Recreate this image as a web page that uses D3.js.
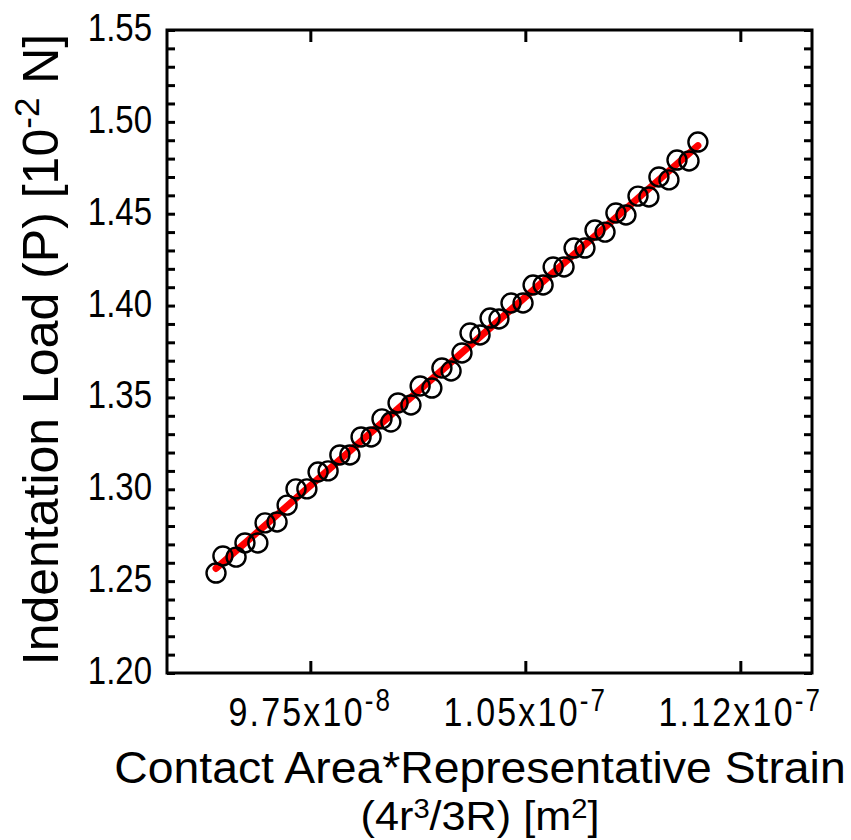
<!DOCTYPE html>
<html>
<head>
<meta charset="utf-8">
<script src="https://cdn.jsdelivr.net/npm/d3@7"></script>
<style>
  html, body { margin: 0; padding: 0; background: #fff; }
  svg { display: block; font-family: "Liberation Sans", Arial, Helvetica, sans-serif; }
</style>
</head>
<body>
<div id="chart"></div>
<script>
// Measured points (x in m^2, y in 10^-2 N)
const contactStrain = [
  0.9421e-7, 0.9445e-7, 0.9491e-7, 0.9522e-7, 0.9567e-7, 0.9592e-7, 0.9634e-7, 0.9669e-7,
  0.9700e-7, 0.9738e-7, 0.9777e-7, 0.9812e-7, 0.9853e-7, 0.9888e-7, 0.9927e-7, 0.9962e-7,
  1.0000e-7, 1.0031e-7, 1.0056e-7, 1.0101e-7, 1.0133e-7, 1.0174e-7, 1.0209e-7, 1.0241e-7,
  1.0279e-7, 1.0307e-7, 1.0342e-7, 1.0377e-7, 1.0408e-7, 1.0450e-7, 1.0492e-7, 1.0527e-7,
  1.0562e-7, 1.0597e-7, 1.0635e-7, 1.0670e-7, 1.0708e-7, 1.0743e-7, 1.0778e-7, 1.0816e-7,
  1.0851e-7, 1.0893e-7, 1.0931e-7, 1.0966e-7, 1.1001e-7, 1.1029e-7, 1.1071e-7, 1.1102e-7
];
const indentLoad = [
  1.2544, 1.2637, 1.2631, 1.2708, 1.2708, 1.2817, 1.2822, 1.2914,
  1.3002, 1.3002, 1.3094, 1.3100, 1.3187, 1.3187, 1.3285, 1.3285,
  1.3383, 1.3366, 1.3470, 1.3459, 1.3562, 1.3551, 1.3660, 1.3644,
  1.3742, 1.3851, 1.3840, 1.3932, 1.3927, 1.4014, 1.4014, 1.4112,
  1.4112, 1.4210, 1.4210, 1.4313, 1.4313, 1.4411, 1.4400, 1.4504,
  1.4493, 1.4596, 1.4591, 1.4700, 1.4684, 1.4792, 1.4787, 1.4890
];
const xTicks = [9.75e-8, 1.05e-7, 1.125e-7];
const xTickLabels = [["9.75x10", "-8"], ["1.05x10", "-7"], ["1.12x10", "-7"]];
const yTicks = [1.20, 1.25, 1.30, 1.35, 1.40, 1.45, 1.50, 1.55];

const width = 851, height = 840;
const frame = { left: 167, right: 812, top: 30, bottom: 673 };

const x = d3.scaleLinear().domain([9.25e-8, 1.15e-7]).range([frame.left, frame.right]);
const y = d3.scaleLinear().domain([1.20, 1.55]).range([frame.bottom, frame.top]);

const svg = d3.select('#chart').append('svg')
  .attr('width', width).attr('height', height)
  .attr('viewBox', `0 0 ${width} ${height}`);

const points = contactStrain.map((v, i) => ({ x: v, y: indentLoad[i] }));

// Least squares fit over the measured range
const mx = d3.mean(points, d => d.x), my = d3.mean(points, d => d.y);
const slope = d3.sum(points, d => (d.x - mx) * (d.y - my)) / d3.sum(points, d => (d.x - mx) ** 2);
const intercept = my - slope * mx;
const [x0, x1] = d3.extent(points, d => d.x);

svg.append('line')
  .attr('x1', x(x0)).attr('y1', y(slope * x0 + intercept))
  .attr('x2', x(x1)).attr('y2', y(slope * x1 + intercept))
  .attr('stroke', '#ff0000')
  .attr('stroke-width', 7)
  .attr('stroke-linecap', 'round');

svg.append('g')
  .selectAll('circle')
  .data(points)
  .join('circle')
  .attr('cx', d => x(d.x))
  .attr('cy', d => y(d.y))
  .attr('r', 9.5)
  .attr('fill', 'none')
  .attr('stroke', '#000')
  .attr('stroke-width', 2.4);

// Axes: ticks point inward on all four sides
const minorY = d3.range(120, 156).map(v => v / 100);
const axisLeft = d3.axisRight(y).tickValues(minorY).tickSize(8).tickFormat('');
const axisRight = d3.axisLeft(y).tickValues(minorY).tickSize(8).tickFormat('');
const axisBottom = d3.axisTop(x).tickValues(xTicks).tickSize(12).tickFormat('');
const axisTop = d3.axisBottom(x).tickValues(xTicks).tickSize(12).tickFormat('');

function styleAxis(g) {
  g.select('.domain').remove();
  g.selectAll('.tick line').attr('stroke', '#000').attr('stroke-width', 3);
}

svg.append('g').attr('transform', `translate(${frame.left},0)`).call(axisLeft).call(styleAxis);
svg.append('g').attr('transform', `translate(${frame.right},0)`).call(axisRight).call(styleAxis);
svg.append('g').attr('transform', `translate(0,${frame.bottom})`).call(axisBottom).call(styleAxis);
svg.append('g').attr('transform', `translate(0,${frame.top})`).call(axisTop).call(styleAxis);

svg.append('rect')
  .attr('x', frame.left).attr('y', frame.top)
  .attr('width', frame.right - frame.left).attr('height', frame.bottom - frame.top)
  .attr('fill', 'none').attr('stroke', '#000').attr('stroke-width', 3);

// Text in the original is slightly stretched vertically
const stretch = 1.18;

// Y tick labels
svg.append('g')
  .selectAll('text')
  .data(yTicks)
  .join('text')
  .attr('transform', d => `translate(152,${y(d) - 3}) scale(1,${stretch})`)
  .attr('dy', '0.36em')
  .attr('text-anchor', 'end')
  .attr('font-size', 33)
  .text(d => d.toFixed(2));

// X tick labels with superscript exponent
const xl = svg.append('g')
  .selectAll('text')
  .data(xTicks)
  .join('text')
  .attr('transform', d => `translate(${x(d)},726) scale(1,${stretch})`)
  .attr('text-anchor', 'middle')
  .attr('letter-spacing', 2.2)
  .attr('font-size', 34);
xl.append('tspan').text((d, i) => xTickLabels[i][0]);
xl.append('tspan').attr('dy', -13).attr('font-size', 26).text((d, i) => xTickLabels[i][1]);

// Axis titles
svg.append('text')
  .attr('transform', 'translate(480,783) scale(1.03,1)')
  .attr('text-anchor', 'middle')
  .attr('font-size', 45)
  .text('Contact Area*Representative Strain');

const xt2 = svg.append('text')
  .attr('transform', 'translate(480,830) scale(1.08,1)')
  .attr('text-anchor', 'middle')
  .attr('font-size', 40);
xt2.append('tspan').text('(4r');
xt2.append('tspan').attr('dy', -12).attr('font-size', 27).text('3');
xt2.append('tspan').attr('dy', 12).text('/3R) [m');
xt2.append('tspan').attr('dy', -12).attr('font-size', 27).text('2');
xt2.append('tspan').attr('dy', 12).text(']');

const yt = svg.append('text')
  .attr('transform', `translate(58,${(frame.top + frame.bottom) / 2 - 2}) rotate(-90)`)
  .attr('text-anchor', 'middle')
  .attr('font-size', 50);
yt.append('tspan').text('Indentation Load (P) [10');
yt.append('tspan').attr('dy', -19).attr('font-size', 35).text('-2');
yt.append('tspan').attr('dy', 19).text(' N]');
</script>
</body>
</html>
